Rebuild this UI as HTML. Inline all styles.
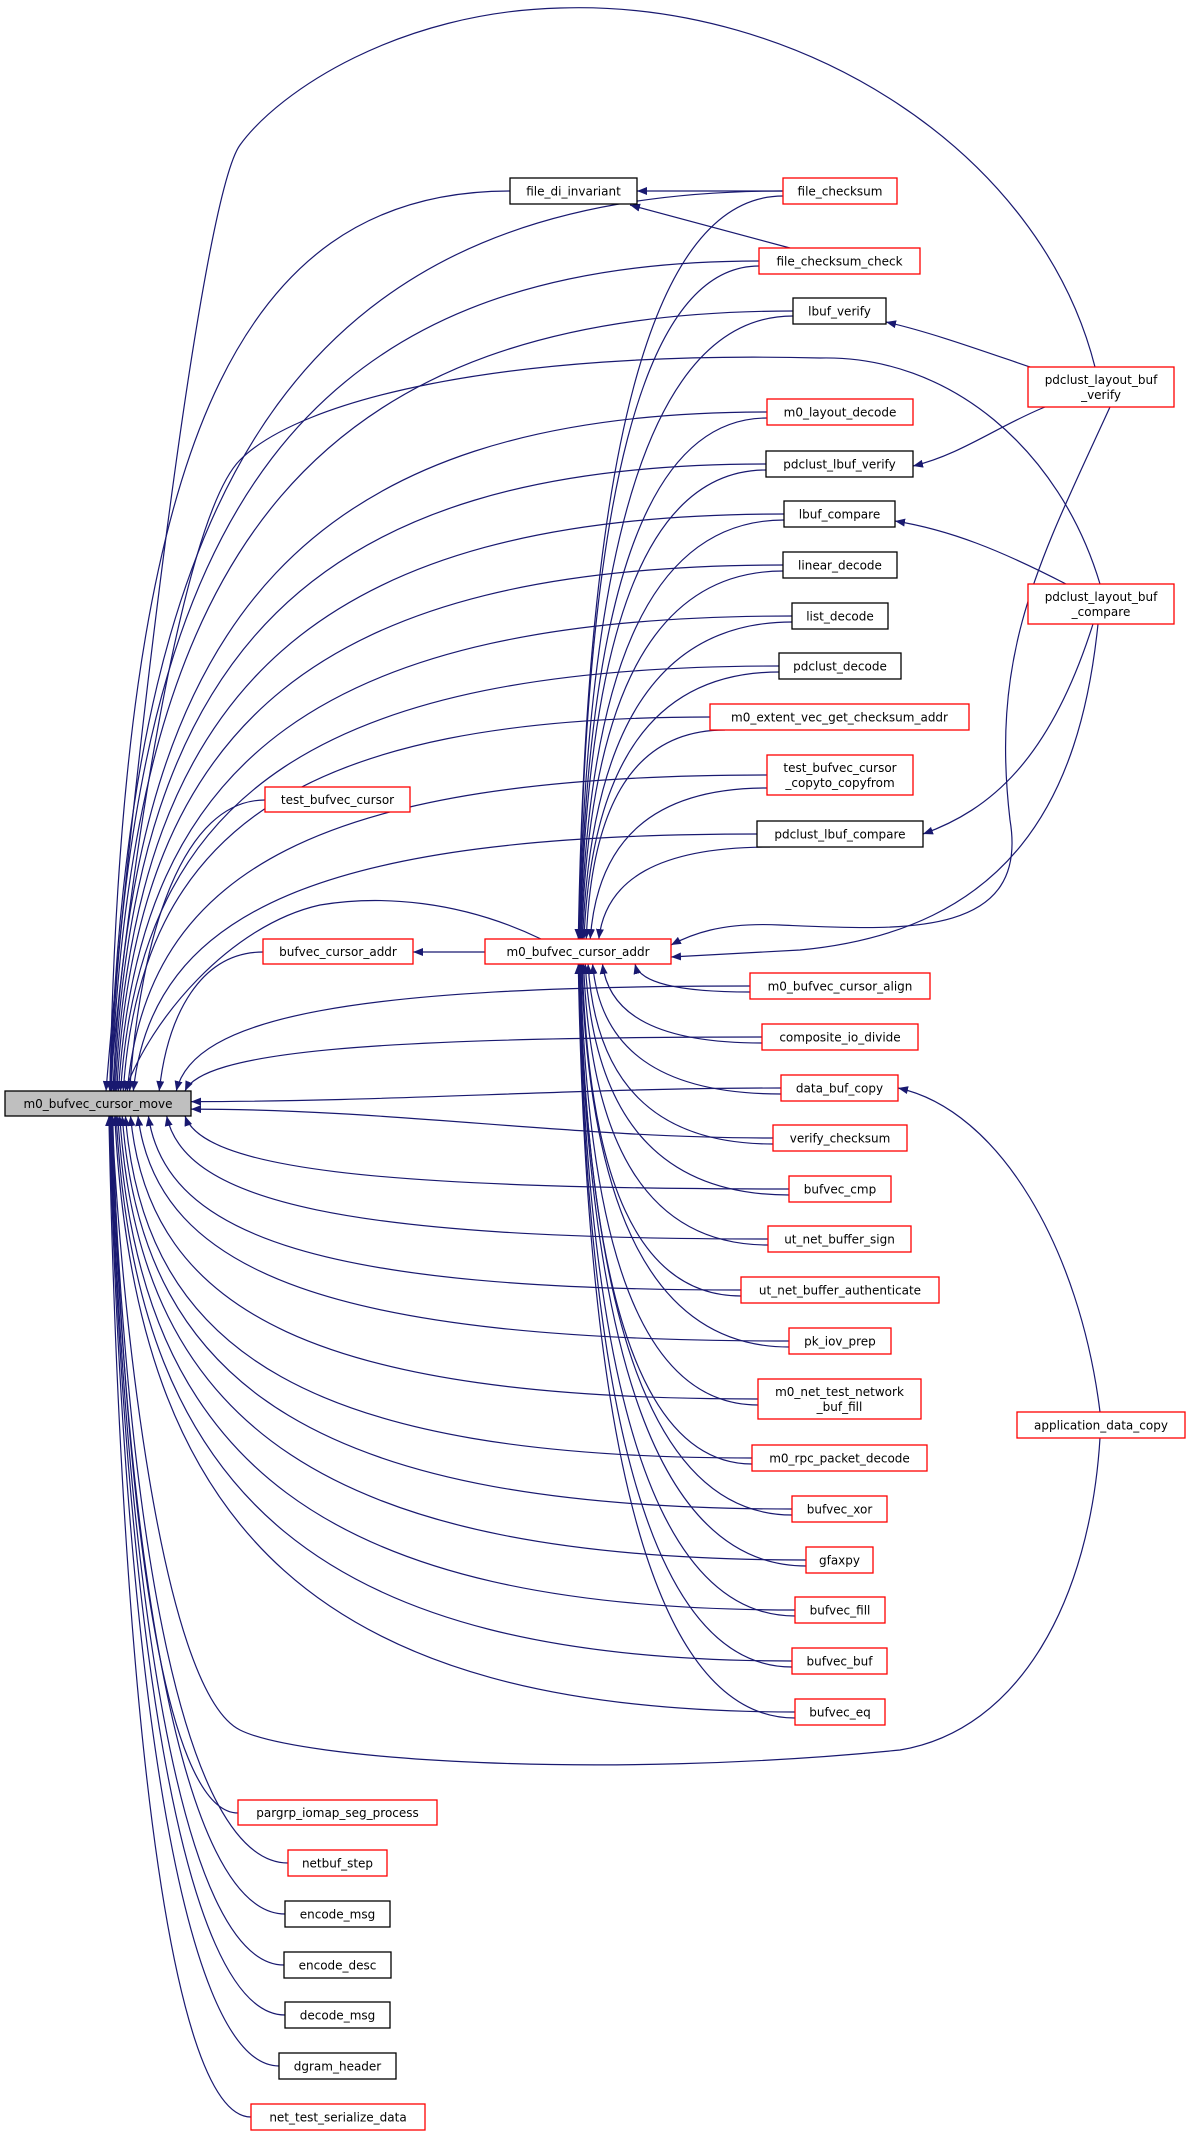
<!DOCTYPE html>
<html><head><meta charset="utf-8">
<style>
html,body{margin:0;padding:0;background:#fff;}
svg{display:block;}
text{font-family:"DejaVu Sans","Liberation Sans",sans-serif;font-size:12px;fill:#000;}
</style></head>
<body>
<svg id="g" xmlns="http://www.w3.org/2000/svg" width="1191" height="2135" viewBox="0 0 1191 2135">
<defs>
<marker id="ar" viewBox="0 0 10 8" refX="10" refY="4" markerWidth="10" markerHeight="8" markerUnits="userSpaceOnUse" orient="auto">
<path d="M0,0 L10,4 L0,8 z" fill="#191970"/>
</marker>
</defs>
<g id="edges" fill="none" stroke="#191970" stroke-width="1.2"></g>
<g id="nodes" stroke-width="1.3">
<rect x="5" y="1091" width="186" height="25" fill="#bfbfbf" stroke="#000"/><text x="98" y="1108" text-anchor="middle">m0_bufvec_cursor_move</text>

<rect x="510" y="178" width="127" height="26" fill="#fff" stroke="#000"/><text x="573.5" y="195.5" text-anchor="middle">file_di_invariant</text>
<rect x="783" y="178" width="114" height="26" fill="#fff" stroke="red"/><text x="840" y="195.5" text-anchor="middle">file_checksum</text>
<rect x="759" y="248" width="161" height="26" fill="#fff" stroke="red"/><text x="839.5" y="265.5" text-anchor="middle">file_checksum_check</text>
<rect x="793" y="298" width="93" height="26" fill="#fff" stroke="#000"/><text x="839.5" y="315.5" text-anchor="middle">lbuf_verify</text>
<rect x="1028" y="367" width="146" height="40" fill="#fff" stroke="red"/><text x="1101" y="384" text-anchor="middle">pdclust_layout_buf</text><text x="1101" y="399" text-anchor="middle">_verify</text>
<rect x="767" y="399" width="146" height="26" fill="#fff" stroke="red"/><text x="840" y="416.5" text-anchor="middle">m0_layout_decode</text>
<rect x="766" y="451" width="147" height="26" fill="#fff" stroke="#000"/><text x="839.5" y="468.5" text-anchor="middle">pdclust_lbuf_verify</text>
<rect x="784" y="501" width="111" height="26" fill="#fff" stroke="#000"/><text x="839.5" y="518.5" text-anchor="middle">lbuf_compare</text>
<rect x="783" y="552" width="114" height="26" fill="#fff" stroke="#000"/><text x="840" y="569.5" text-anchor="middle">linear_decode</text>
<rect x="1028" y="584" width="146" height="40" fill="#fff" stroke="red"/><text x="1101" y="601" text-anchor="middle">pdclust_layout_buf</text><text x="1101" y="616" text-anchor="middle">_compare</text>
<rect x="792" y="603" width="96" height="26" fill="#fff" stroke="#000"/><text x="840" y="620.5" text-anchor="middle">list_decode</text>
<rect x="779" y="653" width="122" height="26" fill="#fff" stroke="#000"/><text x="840" y="670.5" text-anchor="middle">pdclust_decode</text>
<rect x="710" y="704" width="259" height="26" fill="#fff" stroke="red"/><text x="839.5" y="721.5" text-anchor="middle">m0_extent_vec_get_checksum_addr</text>
<rect x="767" y="755" width="146" height="40" fill="#fff" stroke="red"/><text x="840" y="772" text-anchor="middle">test_bufvec_cursor</text><text x="840" y="787" text-anchor="middle">_copyto_copyfrom</text>
<rect x="265" y="787" width="145" height="25" fill="#fff" stroke="red"/><text x="337.5" y="804" text-anchor="middle">test_bufvec_cursor</text>
<rect x="757" y="821" width="166" height="26" fill="#fff" stroke="#000"/><text x="840" y="838.5" text-anchor="middle">pdclust_lbuf_compare</text>
<rect x="263" y="939" width="150" height="25" fill="#fff" stroke="red"/><text x="338" y="956" text-anchor="middle">bufvec_cursor_addr</text>
<rect x="485" y="939" width="186" height="25" fill="#fff" stroke="red"/><text x="578" y="956" text-anchor="middle">m0_bufvec_cursor_addr</text>
<rect x="750" y="973" width="180" height="26" fill="#fff" stroke="red"/><text x="840" y="990.5" text-anchor="middle">m0_bufvec_cursor_align</text>
<rect x="762" y="1024" width="156" height="26" fill="#fff" stroke="red"/><text x="840" y="1041.5" text-anchor="middle">composite_io_divide</text>
<rect x="781" y="1075" width="117" height="26" fill="#fff" stroke="red"/><text x="839.5" y="1092.5" text-anchor="middle">data_buf_copy</text>
<rect x="773" y="1125" width="134" height="26" fill="#fff" stroke="red"/><text x="840" y="1142.5" text-anchor="middle">verify_checksum</text>
<rect x="789" y="1176" width="102" height="26" fill="#fff" stroke="red"/><text x="840" y="1193.5" text-anchor="middle">bufvec_cmp</text>
<rect x="768" y="1226" width="143" height="26" fill="#fff" stroke="red"/><text x="839.5" y="1243.5" text-anchor="middle">ut_net_buffer_sign</text>
<rect x="741" y="1277" width="198" height="26" fill="#fff" stroke="red"/><text x="840" y="1294.5" text-anchor="middle">ut_net_buffer_authenticate</text>
<rect x="789" y="1328" width="102" height="26" fill="#fff" stroke="red"/><text x="840" y="1345.5" text-anchor="middle">pk_iov_prep</text>
<rect x="758" y="1379" width="163" height="40" fill="#fff" stroke="red"/><text x="839.5" y="1396" text-anchor="middle">m0_net_test_network</text><text x="839.5" y="1411" text-anchor="middle">_buf_fill</text>
<rect x="1017" y="1412" width="168" height="26" fill="#fff" stroke="red"/><text x="1101" y="1429.5" text-anchor="middle">application_data_copy</text>
<rect x="752" y="1445" width="175" height="26" fill="#fff" stroke="red"/><text x="839.5" y="1462.5" text-anchor="middle">m0_rpc_packet_decode</text>
<rect x="792" y="1496" width="95" height="26" fill="#fff" stroke="red"/><text x="839.5" y="1513.5" text-anchor="middle">bufvec_xor</text>
<rect x="806" y="1547" width="67" height="26" fill="#fff" stroke="red"/><text x="839.5" y="1564.5" text-anchor="middle">gfaxpy</text>
<rect x="795" y="1597" width="90" height="26" fill="#fff" stroke="red"/><text x="840" y="1614.5" text-anchor="middle">bufvec_fill</text>
<rect x="792" y="1648" width="95" height="26" fill="#fff" stroke="red"/><text x="839.5" y="1665.5" text-anchor="middle">bufvec_buf</text>
<rect x="795" y="1699" width="90" height="26" fill="#fff" stroke="red"/><text x="840" y="1716.5" text-anchor="middle">bufvec_eq</text>
<rect x="238" y="1800" width="199" height="25" fill="#fff" stroke="red"/><text x="337.5" y="1817" text-anchor="middle">pargrp_iomap_seg_process</text>
<rect x="288" y="1850" width="99" height="26" fill="#fff" stroke="red"/><text x="337.5" y="1867.5" text-anchor="middle">netbuf_step</text>
<rect x="285" y="1901" width="105" height="26" fill="#fff" stroke="#000"/><text x="337.5" y="1918.5" text-anchor="middle">encode_msg</text>
<rect x="284" y="1952" width="107" height="26" fill="#fff" stroke="#000"/><text x="337.5" y="1969.5" text-anchor="middle">encode_desc</text>
<rect x="285" y="2002" width="105" height="26" fill="#fff" stroke="#000"/><text x="337.5" y="2019.5" text-anchor="middle">decode_msg</text>
<rect x="279" y="2053" width="117" height="26" fill="#fff" stroke="#000"/><text x="337.5" y="2070.5" text-anchor="middle">dgram_header</text>
<rect x="251" y="2104" width="174" height="26" fill="#fff" stroke="red"/><text x="338" y="2121.5" text-anchor="middle">net_test_serialize_data</text>
</g>
</svg>
<script>
(function(){
var g=document.getElementById('edges');
function P(d){var p=document.createElementNS('http://www.w3.org/2000/svg','path');p.setAttribute('d',d);p.setAttribute('marker-end','url(#ar)');g.appendChild(p);}
function toMain(x,y){
  var dy=y-1104,ex,ey;
  if(Math.abs(dy)<60){ex=191;ey=1104+dy*0.15;
    P('M'+x+','+y+' C'+(x-0.35*(x-ex))+','+y+' '+(ex+0.35*(x-ex))+','+ey+' '+ex+','+ey);return;}
  var off=Math.min(85,9000/Math.abs(dy));ex=100+off;ey=dy<0?1091:1116;
  var dx=x-ex;
  if(dx<250){
    P('M'+x+','+y+' C'+(x-0.6*dx)+','+y+' '+(ex+0.08*dx)+','+(ey-0.55*(ey-y))+' '+ex+','+ey);return;}
  P('M'+x+','+y+' C'+(ex+0.3*dx)+','+y+' '+(ex+0.03*dx)+','+(y+0.3*(ey-y))+' '+ex+','+ey);
}
function toAddr(x,y){
  var dy=y-952,ex,ey;
  var off=Math.min(60,2500/Math.abs(dy));ex=575+off;ey=dy<0?939:964;
  var dx=x-ex;
  P('M'+x+','+y+' C'+(ex+0.35*dx)+','+y+' '+(ex+0.04*dx)+','+(y+0.35*(ey-y))+' '+ex+','+ey);
}
var mainSrc=[[510,191],[783,191],[759,261],[793,311],[767,412],[766,464],[784,514],[783,565],[792,616],[779,666],[710,717],[767,775],[265,800],[757,834],[263,952],[750,986],[762,1037],[781,1088],[773,1138],[789,1189],[768,1239],[741,1290],[789,1341],[758,1399],[752,1458],[792,1509],[806,1560],[795,1610],[792,1661],[795,1712],[238,1813],[288,1863],[285,1914],[284,1965],[285,2015],[279,2066],[251,2117]];
mainSrc.forEach(function(s){toMain(s[0],s[1]);});
var addrSrc=[[783,196],[759,266],[793,316],[767,418],[766,470],[784,520],[783,571],[792,622],[779,672],[725,730],[767,788],[770,847],[750,992],[762,1043],[781,1094],[773,1144],[789,1195],[768,1245],[741,1296],[789,1347],[758,1405],[752,1464],[792,1515],[806,1566],[795,1616],[792,1667],[795,1718]];
addrSrc.forEach(function(s){toAddr(s[0],s[1]);});
P('M1095,367 C1040,150 800,0 560,8 C400,12 280,90 240,145 C200,200 130,800 106,1091');
P('M1100,584 C1060,450 950,355 820,358 C500,350 300,400 240,460 C180,520 125,900 110,1091');
P('M1100,1438 C1090,1600 1020,1730 900,1750 C600,1780 300,1760 240,1730 C160,1690 120,1300 112,1116');
P('M541,939 C460,900 380,895 320,905 C230,925 150,1020 125,1091');
P('M1110,407 C1040,560 990,650 1010,820 C1030,940 900,930 780,925 C720,922 690,935 671,945');
P('M1098,624 C1080,800 1010,930 800,950 L671,957');
P('M1093,624 C1050,760 990,810 923,834');
P('M1066,584 C1000,550 950,530 895,521');
P('M1030,367 C980,350 930,332 886,322');
P('M1045,407 C1000,425 960,455 913,466');
P('M1100,1412 C1080,1250 1000,1110 898,1088');
P('M783,191 L637,191');
P('M790,248 L630,205');
P('M485,952 L413,952');
})();
</script>
</body></html>
